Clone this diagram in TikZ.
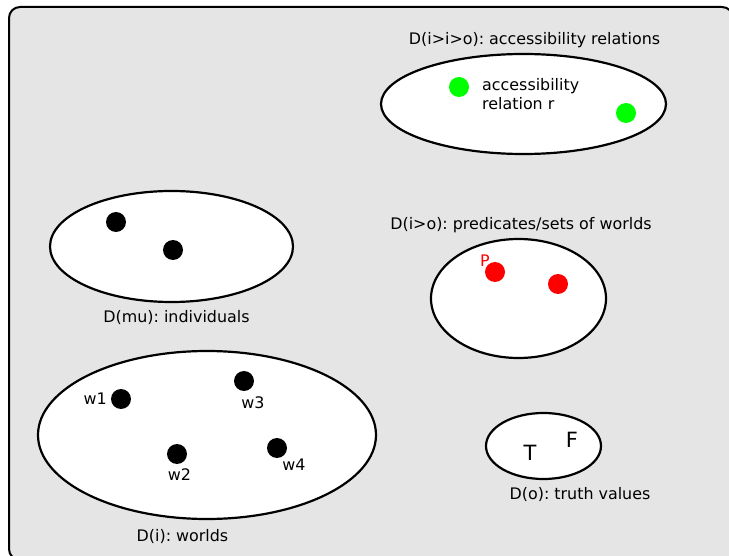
\documentclass[tikz,border=0pt]{standalone}
\usepackage{fontspec}
\setmainfont{DejaVu Sans}
\usetikzlibrary{shapes.geometric,positioning}
\frenchspacing

\definecolor{panelgray}{RGB}{229,229,229}
\definecolor{relgreen}{RGB}{0,255,0}
\definecolor{predred}{RGB}{255,0,0}

\begin{document}
\begin{tikzpicture}[x=1pt,y=-1pt,font=\fontsize{15.9}{19}\selectfont]
	\tikzstyle{domainset}=[ellipse,draw,line width=2.2pt,fill=white,inner sep=0pt]
	\tikzstyle{dot}=[circle,fill=black,minimum size=20pt,inner sep=0pt,outer sep=0pt]
	\tikzstyle{lbl}=[inner sep=0pt]

	\useasboundingbox (0,0) rectangle (729,556);
	\draw[line width=2pt,fill=panelgray,rounded corners=11pt] (9,7) rectangle (733,560);

	% domains
	\node[domainset,minimum width=285pt,minimum height=100pt] (D_iio) at (523.5,104)   {};
	\node[domainset,minimum width=243pt,minimum height=111pt] (D_mu)  at (171.5,246.5) {};
	\node[domainset,minimum width=175pt,minimum height=119pt] (D_io)  at (518.5,298.5) {};
	\node[domainset,minimum width=338pt,minimum height=168pt] (D_i)   at (207,435)     {};
	\node[domainset,minimum width=115pt,minimum height=66pt]  (D_o)   at (543.5,446)   {};

	\node[lbl,anchor=base] (D_iio_lab) at (534.5,45)  {D(i>i>o): accessibility relations};
	\node[lbl,anchor=base] (D_io_lab)  at (521,230)   {D(i>o): predicates/sets of worlds};
	\node[lbl,anchor=base] (D_mu_lab)  at (176.5,323) {D(mu): individuals};
	\node[lbl,anchor=base] (D_i_lab)   at (182.5,541) {D(i): worlds};
	\node[lbl,anchor=base] (D_o_lab)   at (580,499)   {D(o): truth values};

	% accessibility relations
	\node[dot,fill=relgreen] (r_1) at (459,87)  {};
	\node[dot,fill=relgreen] (r_2) at (626,113) {};
	\node[lbl,anchor=north west,align=left] (r_lab) at (482,78) {accessibility\\relation r};

	% individuals
	\node[dot] (m_1) at (116,222) {};
	\node[dot] (m_2) at (173,250) {};

	% predicates
	\node[dot,fill=predred] (p_1) at (495,272) {};
	\node[dot,fill=predred] (p_2) at (558,284) {};
	\node[lbl,anchor=base,text=predred] (p_lab) at (484.8,267) {P};

	% worlds
	\node[dot] (w1) at (121,399) {};
	\node[dot] (w2) at (177,454) {};
	\node[dot] (w3) at (244,381) {};
	\node[dot] (w4) at (277,448) {};
	\node[lbl] (w1_lab) [left=4pt of w1]                 {w1};
	\node[lbl] (w2_lab) [below=4.4pt of w2,xshift=2.5pt] {w2};
	\node[lbl] (w3_lab) [below=5.4pt of w3,xshift=9pt]   {w3};
	\node[lbl] (w4_lab) [below=0.4pt of w4,xshift=17pt]  {w4};

	% truth values
	\node[lbl,anchor=base,font=\fontsize{21}{25}\selectfont] (t_val) at (530,460) {T};
	\node[lbl,anchor=base,font=\fontsize{21}{25}\selectfont] (f_val) at (572,447) {F};
\end{tikzpicture}
\end{document}
